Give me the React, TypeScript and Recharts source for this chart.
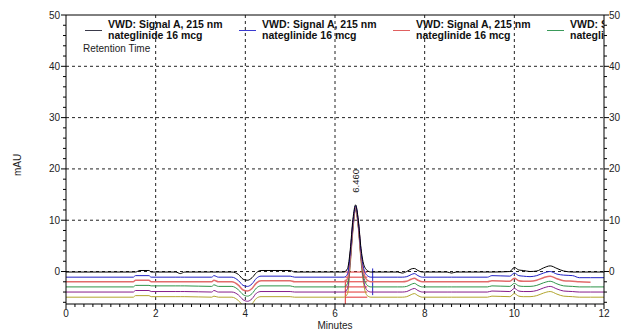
import { LineChart, Line, XAxis, YAxis, CartesianGrid, ReferenceLine, ReferenceDot } from 'recharts';

// retention time (min)
const times = [
  0, 1.5, 1.55, 1.65, 1.85, 1.9, 2.45, 2.55, 2.65, 3.25,
  3.3, 3.4, 3.7, 3.85, 3.95, 4.05, 4.15, 4.25, 4.35, 5.0,
  5.1, 6.2, 6.28, 6.34, 6.4, 6.46, 6.52, 6.58, 6.64, 6.72,
  6.8, 7.4, 7.5, 7.6, 7.7, 7.77, 7.85, 7.95, 8.5, 8.6,
  8.7, 9.4, 9.5, 9.9, 10.0, 10.1, 10.2, 10.35, 10.5, 10.65,
  10.8, 10.95, 11.1, 11.3, 11.45, 11.7, 12.0,
];

// mAU, one array per injection
const trace1 = [
  -0.1, -0.1, -0.1, 0.2, 0.2, -0.1, -0.1, -0.4, -0.1, -0.1,
  -0.1, -0.1, -0.1, -0.6, -1.5, -1.7, -1.2, -0.2, 0.2, 0.2,
  -0.1, -0.1, 0.6, 4.2, 10.2, 13.0, 10.0, 4.5, 1.4, 0.2,
  -0.1, -0.1, -0.3, 0.0, 0.5, 0.6, 0.2, -0.1, -0.1, -0.3,
  -0.1, -0.1, -0.1, 0.0, 0.8, 0.3, 0.2, 0.0, 0.1, 0.7,
  1.1, 0.6, 0.1, -0.1, -0.1, -0.1, -0.1,
];
const trace2 = [
  -1.1, -1.1, -0.8, -0.8, -0.8, -1.1, -1.1, -1.1, -1.1, -1.1,
  -0.8, -1.1, -1.1, -1.8, -2.7, -2.9, -2.4, -1.3, -0.9, -0.9,
  -1.1, -1.1, -0.5, 3.6, 9.6, 12.8, 9.7, 4.0, 0.6, -0.8,
  -1.1, -1.1, -1.1, -1.0, -0.6, -0.4, -0.8, -1.1, -1.1, -1.1,
  -1.1, -1.1, -0.8, -0.9, -0.3, -0.8, -0.9, -1.0, -0.8, -0.3,
  0.0, -0.5, -0.7, -0.8, -1.2, -1.2, -1.2,
];
const trace3 = [
  -2.0, -2.0, -1.7, -1.7, -1.7, -2.0, -2.0, -2.0, -2.0, -2.0,
  -1.7, -2.0, -2.0, -2.7, -3.6, -3.8, -3.3, -2.2, -1.8, -1.8,
  -2.0, -2.0, -1.4, 3.0, 9.2, 12.6, 9.4, 3.5, -0.2, -1.7,
  -2.0, -2.0, -2.0, -1.9, -1.5, -1.3, -1.7, -2.0, -2.0, -2.0,
  -2.0, -2.0, -1.8, -1.9, -1.3, -1.8, -1.9, -1.9, -1.7, -1.2,
  -0.9, -1.4, -1.8, -1.9, -2.0, -2.1, null,
];
const trace4 = [
  -3.0, -3.0, -2.7, -2.7, -2.7, -2.8, -2.8, -2.8, -2.8, -2.9,
  -2.6, -2.9, -2.9, -3.6, -4.5, -4.8, -4.3, -3.2, -2.8, -2.8,
  -3.0, -3.0, -2.3, 2.4, 8.7, 12.4, 9.0, 3.0, -1.0, -2.7,
  -3.0, -3.0, -3.0, -2.9, -2.5, -2.3, -2.7, -3.0, -3.0, -3.0,
  -3.0, -3.0, -2.8, -2.9, -2.3, -2.8, -2.9, -2.9, -2.7, -2.2,
  -1.9, -2.4, -2.8, -2.9, -3.0, -3.0, -3.0,
];
const trace5 = [
  -4.0, -4.0, -3.7, -3.7, -3.7, -3.9, -3.9, -3.9, -3.9, -4.0,
  -3.7, -4.0, -4.0, -4.6, -5.5, -5.8, -5.3, -4.2, -3.9, -3.9,
  -4.0, -4.0, -3.3, 1.8, 8.3, 12.2, 8.7, 2.5, -1.8, -3.7,
  -4.0, -4.0, -4.0, -3.9, -3.5, -3.3, -3.7, -4.0, -4.0, -4.0,
  -4.0, -4.0, -3.8, -3.9, -3.3, -3.8, -3.9, -3.9, -3.7, -3.2,
  -2.9, -3.4, -3.8, -3.9, -4.0, -4.0, -4.0,
];
const trace6 = [
  -5.0, -5.0, -4.7, -4.7, -4.7, -4.9, -4.9, -4.9, -4.9, -5.0,
  -4.8, -5.0, -5.0, -5.7, -6.6, -6.9, -6.3, -5.2, -4.9, -4.9,
  -5.0, -5.0, -4.3, 1.2, 7.9, 12.0, 8.4, 2.0, -2.5, -4.7,
  -5.0, -5.0, -5.0, -4.9, -4.5, -4.3, -4.7, -5.0, -5.0, -5.0,
  -5.0, -5.0, -4.8, -4.9, -4.3, -4.8, -4.9, -4.9, -4.7, -4.2,
  -3.9, -4.4, -4.8, -4.9, -5.0, -5.0, -5.0,
];

const traces = [trace1, trace2, trace3, trace4, trace5, trace6];
const traceKeys = ['s1', 's2', 's3', 's4', 's5', 's6'];
const traceColors = ['#000000', '#2222c4', '#e26b6b', '#2e9448', '#861c8a', '#b2a52c'];

// integration baselines under the main peak
const traceBaselines = [-0.1, -1.1, -2.0, -3.0, -4.0, -5.0];
const peakStart = 6.23;
const peakEnd = 6.72;
const peakTime = 6.46;
const peakHeight = 13;
const peakLabel = '6.460';

const legendLine1 = ['VWD: Signal A, 215 nm', 'VWD: Signal A, 215 nm', 'VWD: Signal A, 215 nm', 'VWD: Signal A, 215 nm'];
const legendLine2 = ['nateglinide 16 mcg', 'nateglinide 16 mcg', 'nateglinide 16 mcg', 'nateglinide 16 mcg'];
const legendColors = ['#3a3a4a', '#3a3ad0', '#e06060', '#3a9a5a'];

const xTicks = Array.from({ length: 61 }, (_, i) => Math.round(i * 2) / 10);
const yTicks = Array.from({ length: 29 }, (_, i) => -6 + i * 2);

const data = times.map((time, i) => {
  const row: Record<string, number | null> = { time };
  traceKeys.forEach((k, j) => { row[k] = traces[j][i]; });
  return row;
});

const FONT = 'Arial, "Liberation Sans", sans-serif';
const W = 633;
const H = 321;

const isMajorY = (v: number) => v >= 0 && v % 10 === 0;
const isMajorX = (v: number) => Math.abs(v - Math.round(v)) < 1e-6 && Math.round(v) % 2 === 0;

const LeftTick = (props: any) => {
  const { x, y, payload } = props;
  const major = isMajorY(payload.value);
  return (
    <g>
      <line x1={x - (major ? 5 : 3)} x2={x} y1={y} y2={y} stroke="#000" />
      {major && (
        <text x={x - 6} y={y} dy={3.5} textAnchor="end" fontSize={10} fill="#222" fontFamily={FONT}>{payload.value}</text>
      )}
    </g>
  );
};

const RightTick = (props: any) => {
  const { x, y, payload } = props;
  const major = isMajorY(payload.value);
  return (
    <g>
      <line x1={x} x2={x + (major ? 5 : 3)} y1={y} y2={y} stroke="#000" />
      {major && (
        <text x={x + 5} y={y} dy={3.5} textAnchor="start" fontSize={10} fill="#222" fontFamily={FONT}>{payload.value}</text>
      )}
    </g>
  );
};

const BottomTick = (props: any) => {
  const { x, y, payload } = props;
  const major = isMajorX(payload.value);
  return (
    <g>
      <line x1={x} x2={x} y1={y} y2={y + (major ? 5 : 3)} stroke="#000" />
      {major && (
        <text x={x} y={y + 13} textAnchor="middle" fontSize={10} fill="#222" fontFamily={FONT}>{Math.round(payload.value)}</text>
      )}
    </g>
  );
};

const PeakText = (props: any) => {
  const { cx, cy } = props;
  const tx = cx + 3;
  const ty = cy - 24;
  return (
    <text x={tx} y={ty} transform={`rotate(-90, ${tx}, ${ty})`} textAnchor="middle" fontSize={9.5} fill="#222" fontFamily={FONT}>
      {peakLabel}
    </text>
  );
};

export default function App() {
  return (
    <div style={{ position: 'relative', width: W, height: H, fontFamily: FONT }}>
      <LineChart width={W} height={H} data={data} margin={{ top: 7, right: 7, bottom: 5, left: 18 }}>
        <CartesianGrid
          yAxisId="left"
          stroke="#222"
          strokeDasharray="3 3"
          horizontalValues={[0, 10, 20, 30, 40]}
          verticalValues={[2, 4, 6, 8, 10]}
        />
        <XAxis
          type="number"
          dataKey="time"
          domain={[0, 12]}
          ticks={xTicks}
          interval={0}
          allowDataOverflow
          height={20}
          tickSize={0}
          tickMargin={0}
          tickLine={false}
          axisLine={{ stroke: '#000' }}
          tick={<BottomTick />}
        />
        <YAxis
          yAxisId="left"
          type="number"
          domain={[-6.33, 50]}
          ticks={yTicks}
          interval={0}
          allowDataOverflow
          width={40}
          tickSize={0}
          tickMargin={0}
          tickLine={false}
          axisLine={{ stroke: '#000' }}
          tick={<LeftTick />}
        />
        <YAxis
          yAxisId="right"
          orientation="right"
          type="number"
          domain={[-6.33, 50]}
          ticks={yTicks}
          interval={0}
          allowDataOverflow
          width={30}
          tickSize={0}
          tickMargin={0}
          tickLine={false}
          axisLine={{ stroke: '#000' }}
          tick={<RightTick />}
        />
        <ReferenceLine yAxisId="left" y={50} stroke="#000" />
        {traceBaselines.map((b, i) => (
          <ReferenceLine
            key={`base-${i}`}
            yAxisId="left"
            segment={[{ x: peakStart, y: b }, { x: peakEnd, y: b }]}
            stroke="#e03030"
            ifOverflow="hidden"
          />
        ))}
        <ReferenceLine yAxisId="left" segment={[{ x: peakStart, y: -6.33 }, { x: peakStart, y: -1.6 }]} stroke="#e03030" ifOverflow="hidden" />
        <ReferenceLine yAxisId="left" segment={[{ x: 6.84, y: -4.6 }, { x: 6.84, y: 0.6 }]} stroke="#2222c4" ifOverflow="hidden" />
        {traceKeys.slice().reverse().map((k, ri) => {
          const i = traceKeys.length - 1 - ri;
          return (
            <Line
              key={k}
              yAxisId="left"
              type="monotone"
              dataKey={k}
              stroke={traceColors[i]}
              strokeWidth={i === 2 ? 1.5 : 1}
              dot={false}
              activeDot={false}
              isAnimationActive={false}
              connectNulls={false}
            />
          );
        })}
        <ReferenceDot yAxisId="left" x={peakTime} y={peakHeight} r={0} shape={<PeakText />} />
      </LineChart>

      {/* legend block inside plot, clipped at right border */}
      <div style={{ position: 'absolute', left: 58, top: 0, width: 538, height: 52, overflow: 'hidden', pointerEvents: 'none' }}>
        {legendLine1.map((t, i) => (
          <div key={i} style={{ position: 'absolute', left: 19 + i * 154, top: 11 }}>
            <div style={{ position: 'absolute', left: 0, top: 11, width: 17, height: 1, background: legendColors[i] }} />
            <div style={{ position: 'absolute', left: 23, top: 0, whiteSpace: 'nowrap', fontFamily: 'Arial, sans-serif', fontSize: 10.5, fontWeight: 700, lineHeight: '11px', color: '#111' }}>
              <div>{t}</div>
              <div>{legendLine2[i]}</div>
            </div>
          </div>
        ))}
        <div style={{ position: 'absolute', left: 17, top: 35, fontSize: 10, color: '#222', whiteSpace: 'nowrap' }}>Retention Time</div>
      </div>

      <div style={{ position: 'absolute', left: 9, top: 157, fontSize: 10, color: '#222', transform: 'translate(-50%, -50%) rotate(-90deg)', whiteSpace: 'nowrap' }}>mAU</div>
      <div style={{ position: 'absolute', left: 327, top: 312, fontSize: 10, color: '#222', transform: 'translateX(-50%)', whiteSpace: 'nowrap' }}>Minutes</div>
    </div>
  );
}
